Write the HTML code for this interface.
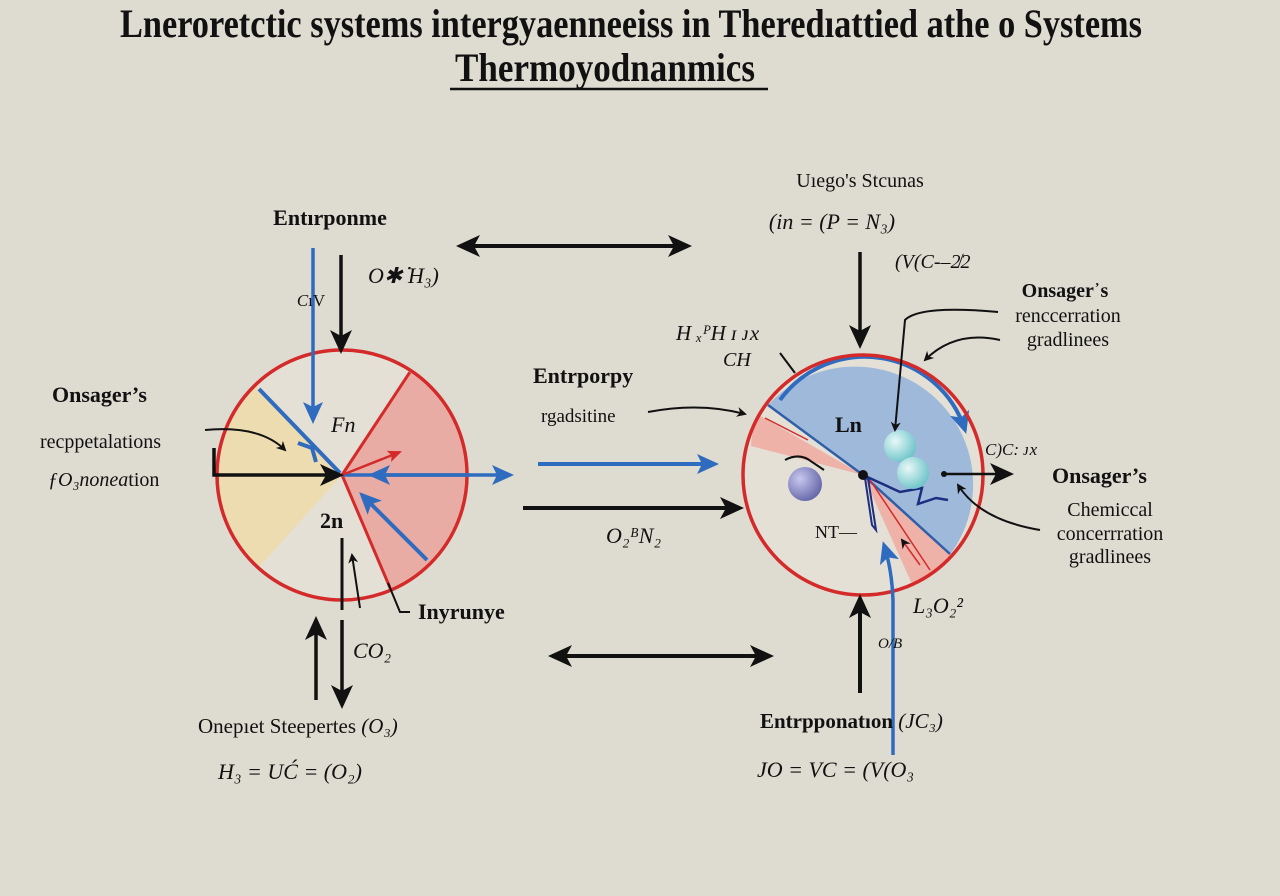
<!DOCTYPE html>
<html><head><meta charset="utf-8"><style>
html,body{margin:0;padding:0;background:#dedbd0;}
svg{display:block;}
text{font-family:"Liberation Serif","DejaVu Serif",serif;fill:#111;}
.b{font-weight:bold;}
.i{font-style:italic;}
</style></head><body>
<svg width="1280" height="896" viewBox="0 0 1280 896" xmlns="http://www.w3.org/2000/svg">
<defs>
<marker id="ak" markerWidth="10" markerHeight="10" refX="8" refY="5" orient="auto" markerUnits="userSpaceOnUse" viewBox="0 0 10 10"><path d="M0,0 L10,5 L0,10 L3,5z" fill="#111"/></marker>
<marker id="AK" markerWidth="24" markerHeight="22" refX="20" refY="11" orient="auto" markerUnits="userSpaceOnUse" viewBox="0 0 24 22"><path d="M0,0 L24,11 L0,22 L6,11z" fill="#111"/></marker>
<marker id="AB" markerWidth="22" markerHeight="20" refX="18" refY="10" orient="auto" markerUnits="userSpaceOnUse" viewBox="0 0 22 20"><path d="M0,0 L22,10 L0,20 L5,10z" fill="#2f6cbf"/></marker>
<marker id="AR" markerWidth="14" markerHeight="12" refX="12" refY="6" orient="auto" markerUnits="userSpaceOnUse" viewBox="0 0 14 12"><path d="M0,0 L14,6 L0,12 L3,6z" fill="#d42a2a"/></marker>
<radialGradient id="g1" cx="0.35" cy="0.35" r="0.7"><stop offset="0" stop-color="#e8f8f8"/><stop offset="1" stop-color="#6cc4c8"/></radialGradient>
<radialGradient id="g2" cx="0.35" cy="0.35" r="0.7"><stop offset="0" stop-color="#c8c8ee"/><stop offset="1" stop-color="#6466a8"/></radialGradient>
</defs>

<!-- Title -->
<text x="631" y="37" text-anchor="middle" font-size="40" class="b" textLength="1022" lengthAdjust="spacingAndGlyphs">Lneroretctic systems intergyaenneeiss in Theredıattied athe o Systems</text>
<text x="605" y="81" text-anchor="middle" font-size="40" class="b" textLength="300" lengthAdjust="spacingAndGlyphs">Thermoyodnanmics</text>
<line x1="450" y1="89" x2="768" y2="89" stroke="#111" stroke-width="2.5"/>

<!-- LEFT CIRCLE -->
<circle cx="342" cy="475" r="125" fill="#e4e0d6"/>
<path d="M342,475 L256.6,386.5 A123,123 0 0 0 259.6,566.4 Z" fill="#ecdcb0"/>
<path d="M342,475 L409.8,372.3 A123,123 0 0 1 390.2,588.2 Z" fill="#e9aca4"/>
<line x1="342" y1="475" x2="409.8" y2="372.3" stroke="#d42a2a" stroke-width="3"/>
<line x1="342" y1="475" x2="390.2" y2="588.2" stroke="#d42a2a" stroke-width="3"/>
<circle cx="342" cy="475" r="125" fill="none" stroke="#d42a2a" stroke-width="3.5"/>
<line x1="259" y1="389" x2="340" y2="473" stroke="#2f6cbf" stroke-width="4"/>
<path d="M298,443 L312,448 L316,462" fill="none" stroke="#2f6cbf" stroke-width="4"/>
<line x1="313" y1="248" x2="313" y2="420" stroke="#2f6cbf" stroke-width="3.5" marker-end="url(#AB)"/>
<line x1="342" y1="475" x2="510" y2="475" stroke="#2f6cbf" stroke-width="3.5" marker-end="url(#AB)"/>
<line x1="470" y1="475" x2="372" y2="475" stroke="#2f6cbf" stroke-width="3.5" marker-end="url(#AB)"/>
<line x1="427" y1="560" x2="362" y2="495" stroke="#2f6cbf" stroke-width="4" marker-end="url(#AB)"/>
<line x1="342" y1="475" x2="400" y2="452" stroke="#d42a2a" stroke-width="2.5" marker-end="url(#AR)"/>
<path d="M214,448 L214,475 L340,475" fill="none" stroke="#111" stroke-width="3.5" marker-end="url(#AK)"/>
<path d="M205,430 Q260,425 285,450" fill="none" stroke="#111" stroke-width="2" marker-end="url(#ak)"/>
<line x1="341" y1="255" x2="341" y2="350" stroke="#111" stroke-width="3.5" marker-end="url(#AK)"/>
<line x1="342" y1="538" x2="342" y2="610" stroke="#111" stroke-width="3"/>
<line x1="360" y1="608" x2="352" y2="555" stroke="#111" stroke-width="2" marker-end="url(#ak)"/>
<path d="M388,583 L400,612 L410,612" fill="none" stroke="#111" stroke-width="2"/>
<line x1="316" y1="700" x2="316" y2="620" stroke="#111" stroke-width="3.5" marker-end="url(#AK)"/>
<line x1="342" y1="620" x2="342" y2="705" stroke="#111" stroke-width="3.5" marker-end="url(#AK)"/>

<text x="330" y="225" text-anchor="middle" font-size="22" class="b">Entırponme</text>
<text x="311" y="306" text-anchor="middle" font-size="17" class="i">C<tspan font-style="normal">ıV</tspan></text>
<text x="368" y="283" font-size="22" class="i">O✱ᐝH₃)</text>
<text x="52" y="402" font-size="22" class="b">Onsager’s</text>
<text x="40" y="448" font-size="20">recppetalations</text>
<text x="48" y="486" font-size="20" class="i">ƒO₃nonea<tspan font-style="normal">tion</tspan></text>
<text x="331" y="432" font-size="22" class="i">Fn</text>
<text x="320" y="528" font-size="22" class="b">2n</text>
<text x="418" y="619" font-size="22" class="b">Inyrunye</text>
<text x="353" y="658" font-size="22" class="i">CO₂</text>
<text x="198" y="733" font-size="21">Onepıet Steepertes <tspan class="i">(O₃)</tspan></text>
<text x="218" y="779" font-size="22" class="i">H₃  = UĆ = (O₂)</text>

<!-- CENTER -->
<line x1="575" y1="246" x2="460" y2="246" stroke="#111" stroke-width="4" marker-end="url(#AK)"/>
<line x1="570" y1="246" x2="688" y2="246" stroke="#111" stroke-width="4" marker-end="url(#AK)"/>
<text x="533" y="383" font-size="22" class="b">Entrporpy</text>
<text x="541" y="422" font-size="19">rgadsitine</text>
<path d="M648,412 Q700,402 745,414" fill="none" stroke="#111" stroke-width="2" marker-end="url(#ak)"/>
<line x1="538" y1="464" x2="715" y2="464" stroke="#2f6cbf" stroke-width="4" marker-end="url(#AB)"/>
<line x1="523" y1="508" x2="740" y2="508" stroke="#111" stroke-width="4" marker-end="url(#AK)"/>
<text x="606" y="543" font-size="22" class="i">O₂ᴮN₂</text>
<line x1="665" y1="656" x2="552" y2="656" stroke="#111" stroke-width="4" marker-end="url(#AK)"/>
<line x1="655" y1="656" x2="770" y2="656" stroke="#111" stroke-width="4" marker-end="url(#AK)"/>

<!-- RIGHT CIRCLE -->
<circle cx="863" cy="475" r="120" fill="#e4e0d6"/>
<path d="M863,475 L768,405 A118,118 0 0 1 950.4,554.2 Z" fill="#9fb9da"/>
<path d="M863,475 L757,414 A120,120 0 0 0 751,446 Z" fill="#eeb2a8"/>
<path d="M863,475 L950.4,554.2 A118,118 0 0 1 912,584 Z" fill="#eeb2a8"/>
<line x1="863" y1="475" x2="768" y2="405" stroke="#2f5fa8" stroke-width="2.5"/>
<line x1="863" y1="475" x2="950" y2="554" stroke="#2f5fa8" stroke-width="2.5"/>
<line x1="765" y1="418" x2="808" y2="440" stroke="#d42a2a" stroke-width="1.5"/>
<line x1="870" y1="480" x2="930" y2="570" stroke="#d42a2a" stroke-width="1.5"/>
<line x1="920" y1="565" x2="902" y2="540" stroke="#d42a2a" stroke-width="1.5" marker-end="url(#ak)"/>
<path d="M780,400 A105,105 0 0 1 965,430" fill="none" stroke="#2f6cbf" stroke-width="4" marker-end="url(#AB)"/>
<path d="M863,475 L900,492 L922,488 L918,504 L936,498 L948,500" fill="none" stroke="#1c2e80" stroke-width="2.5"/>
<path d="M865,478 L872,525 L876,530 L868,478" fill="none" stroke="#1c2e80" stroke-width="2"/>
<circle cx="863" cy="475" r="120" fill="none" stroke="#d42a2a" stroke-width="3.5"/>
<circle cx="863" cy="475" r="5" fill="#111"/>
<circle cx="900" cy="446" r="16" fill="url(#g1)"/>
<circle cx="913" cy="473" r="16" fill="url(#g1)"/>
<circle cx="805" cy="484" r="17" fill="url(#g2)"/>
<path d="M785,460 Q800,452 812,462 L824,470" fill="none" stroke="#111" stroke-width="2"/>
<path d="M943,474 L1010,474" stroke="#111" stroke-width="2.5" marker-end="url(#AK)"/>
<circle cx="944" cy="474" r="3" fill="#111"/>
<text x="835" y="432" font-size="22" class="b">Ln</text>
<text x="815" y="538" font-size="18">NΤ—</text>

<text x="860" y="187" text-anchor="middle" font-size="20">Uıego's Stcunas</text>
<text x="832" y="229" text-anchor="middle" font-size="22" class="i">(in = (P = N₃)</text>
<text x="895" y="268" font-size="20" class="i">(V(C-–2̸2</text>
<line x1="860" y1="252" x2="860" y2="345" stroke="#111" stroke-width="3.5" marker-end="url(#AK)"/>
<text x="676" y="340" font-size="21" class="i">H ₓᴾH ɪ ᴊx</text>
<text x="723" y="366" font-size="20" class="i">CH</text>
<line x1="780" y1="353" x2="795" y2="373" stroke="#111" stroke-width="2"/>
<text x="1065" y="297" text-anchor="middle" font-size="20" class="b">Onsager᾿s</text>
<text x="1068" y="322" text-anchor="middle" font-size="20">renccerration</text>
<text x="1068" y="346" text-anchor="middle" font-size="20">gradlinees</text>
<path d="M998,312 Q920,305 905,320 L895,430" fill="none" stroke="#111" stroke-width="2" marker-end="url(#ak)"/>
<path d="M1000,340 Q955,330 925,360" fill="none" stroke="#111" stroke-width="2" marker-end="url(#ak)"/>
<text x="985" y="455" font-size="17" class="i">C)C: ᴊx</text>
<text x="1052" y="483" font-size="22" class="b">Onsager’s</text>
<text x="1110" y="516" text-anchor="middle" font-size="20">Chemiccal</text>
<text x="1110" y="540" text-anchor="middle" font-size="20">concerrration</text>
<text x="1110" y="563" text-anchor="middle" font-size="20">gradlinees</text>
<path d="M1040,530 Q980,520 958,485" fill="none" stroke="#111" stroke-width="2" marker-end="url(#ak)"/>
<line x1="860" y1="693" x2="860" y2="598" stroke="#111" stroke-width="4" marker-end="url(#AK)"/>
<path d="M893,755 L893,600 Q892,570 884,545" fill="none" stroke="#2f6cbf" stroke-width="3.5" marker-end="url(#AB)"/>
<text x="913" y="613" font-size="22" class="i">L₃O₂²</text>
<text x="878" y="648" font-size="15" class="i">O/B</text>
<text x="760" y="728" font-size="21" class="b">Entrpponatıon <tspan class="i" font-weight="normal">(JC₃)</tspan></text>
<text x="757" y="777" font-size="22" class="i">JO  = VC = (V(O₃</text>
</svg>
</body></html>
